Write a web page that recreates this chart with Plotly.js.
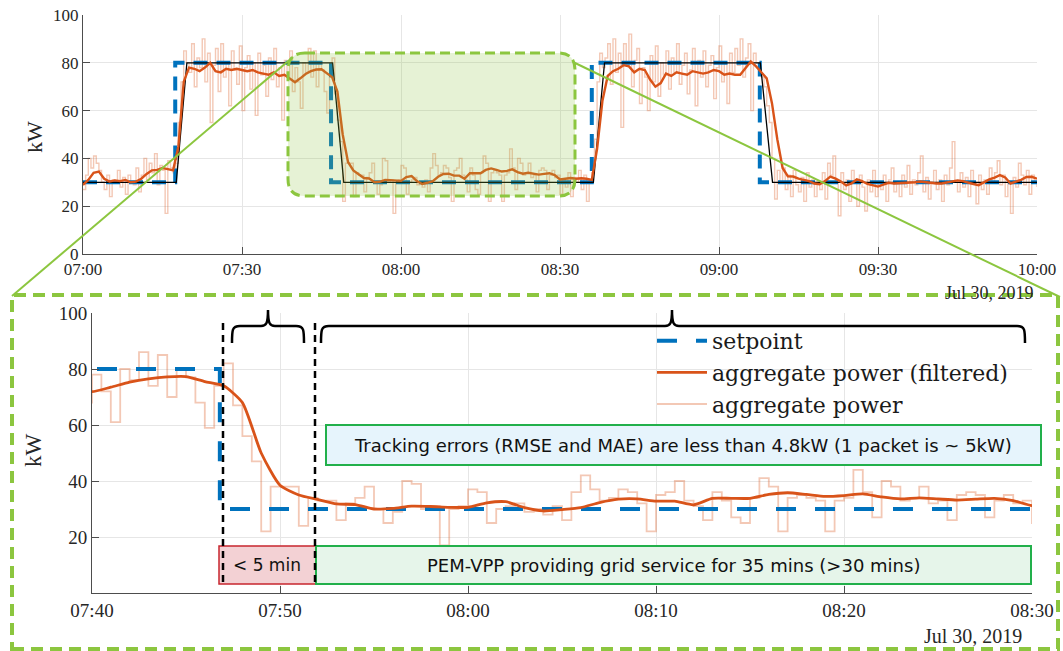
<!DOCTYPE html>
<html><head><meta charset="utf-8">
<script src="https://cdn.plot.ly/plotly-3.0.1.min.js"></script>
<style>html,body{margin:0;padding:0;background:#fff}#chart{width:1063px;height:651px}</style>
</head><body><div id="chart"></div>
<script>
// ---------------- DATA ----------------
const dayStr = '2019-07-30';
const rawStart = '07:00:00';      // raw samples every 30 s
const rawStepSeconds = 30;
const filteredStepSeconds = 60;  // filtered samples every 1 min

// aggregate power (raw), kW, 30-s samples 07:00 -> 10:00
const rawPower = [
  // 07:00 - 07:17
  27,33,40,36,41,38,35,30,27,33,24,31,30,35,28,32,25,33,30,29,36,26,33,40,31,38,34,42,29,37,35,17,39,36,34,
  // 07:17:30 - 07:19:30
  38,55,72,85,80,
  // 07:20 - 07:39:30
  76,88,70,82,78,90,72,84,55,79,86,68,88,74,80,62,85,77,71,87,60,78,83,69,80,58,84,75,79,66,82,73,86,70,78,56,81,74,85,68,
  // 07:40 - 07:47
  78,72,61,80,76,86,74,85,70,80,77,68,59,74,82,
  // 07:47:30 - 07:52
  67,56,47,22,38,38,38,24,34,33,
  // 07:52:30 - 08:30
  33,26,32,34,38,30,25,29,40,39,30,31,17,30,31,37,36,25,30,31,32,29,30,28,31,26,36,42,37,33,34,37,36,32,22,35,36,40,33,31,
  26,36,33,27,25,34,41,38,22,34,35,34,33,22,33,34,44,36,27,40,38,33,34,38,32,33,26,35,36,35,27,33,35,32,33,25,
  // 08:30:30 - 08:36
  31,28,34,24,32,30,35,27,33,22,31,34,
  // 08:36:30 - 08:38
  48,72,84,78,
  // 08:38:30 - 09:07:30
  82,88,71,90,76,84,53,88,79,92,70,81,86,63,78,74,60,83,72,87,66,80,75,85,69,82,76,88,71,79,
  84,67,77,86,62,81,74,85,70,79,83,65,78,87,72,80,63,84,76,86,79,90,74,82,88,60,84,80,76,
  // 09:08 - 09:12
  74,70,62,55,40,23,35,30,36,
  // 09:12:30 - 10:00
  27,33,24,35,29,26,32,22,34,28,31,
  24,30,27,34,23,38,33,41,30,16,34,27,31,22,35,30,20,33,28,18,
  31,26,35,24,30,27,33,22,31,36,26,30,24,33,28,37,25,31,29,34,
  41,26,32,23,30,35,27,31,22,33,29,36,47,30,26,34,28,32,24,35,
  30,21,33,27,31,25,36,30,34,39,29,33,24,30,17,32,28,38,33,29,
  35,25,33,30,28
];

// aggregate power (filtered), kW, 1-min samples 07:00 -> 10:00
const filteredPower = [
  28.9,31,34,34.5,31.5,30.3,30.8,30.5,31,30,
  30.3,31.5,33.5,35,35.2,36,35.5,35,45,72,
  78,77.5,76.5,78,80,76.5,76,77.5,77,77.5,
  77,76.5,77,76,75.5,75,76,74.5,75,73.5,
  71.9,73.5,75.3,76.5,77.2,77.3,75.5,74,68,50,
  38.5,35,33.4,31.8,31.6,30,30.2,31,30.9,30.6,
  30.6,32.2,32.6,30.5,29.3,29.8,30.5,32.3,33.5,33.6,
  32.8,32.8,31.5,33.8,33.8,33.8,35.2,35.8,35.2,34.5,
  34.8,35.4,34.3,33.6,34,33.6,33.2,33.5,33.8,33,
  31.2,
  31.5,31.8,31.5,31.7,31.5,31,44,64,74.5,76.5,
  77.5,79,78.5,76,77.5,77,73,70,71.5,75.5,
  74.5,76,75.5,75,76.5,76,75.5,76,77,76.5,
  75,75.5,75,75,78,80.5,78.5,76,73.5,63,
  48,36,
  32.5,32.4,31.5,31,30.5,29.5,29.2,30.5,32.4,31.5,
  30.3,28.7,29.5,31.2,30.5,29.3,28.8,28.2,29,29.8,
  29.5,29.6,29.5,29.8,30,30.3,30,29.8,29.5,29.5,
  30,30.2,30.8,30.5,29.8,29.3,28.8,30,31.2,32,
  33,32,29.5,30.3,31,32.2,32.3,31.5
];

// setpoint (step, held until next change)
const setpointTimes  = ['07:00:00','07:17:24','07:46:48','08:36:00','09:07:42','10:00:00'];
const setpointValues = [30, 80, 30, 80, 30, 30];

// reference trajectory (thin black line, top panel)
const referenceTimes  = ['07:00:00','07:17:36','07:19:36','07:47:06','07:49:12','08:36:18','08:38:24','09:07:48','09:10:06','10:00:00'];
const referenceValues = [30, 30, 80, 80, 30, 30, 80, 80, 30, 30];

const topTicks = ['07:00','07:30','08:00','08:30','09:00','09:30','10:00'];
const bottomTicks = ['07:40','07:50','08:00','08:10','08:20','08:30'];
const yTicksTop = [0,20,40,60,80,100];
const yTicksBottom = [20,40,60,80,100];

const seriesNames = ['setpoint','aggregate power (filtered)','aggregate power'];
const noteTracking = 'Tracking errors (RMSE and MAE) are less than 4.8kW (1 packet is ~ 5kW)';
const noteFast = '< 5 min';
const noteService = 'PEM-VPP providing grid service for 35 mins (>30 mins)';
const dateLabel = 'Jul 30, 2019';

// ---------------- helpers ----------------
const W = 1063, H = 651;
const fx = p => p / W;
const fy = p => 1 - p / H;
const stamp = hm => dayStr + ' ' + (hm.length === 5 ? hm + ':00' : hm);
function seriesTimes(startHm, stepSec, n) {
  const base = Date.parse(dayStr + 'T' + startHm + 'Z');
  const out = [];
  for (let i = 0; i < n; i++) out.push(new Date(base + i * stepSec * 1000).toISOString().replace('T', ' ').slice(0, 19));
  return out;
}
const rawTimes = seriesTimes(rawStart, rawStepSeconds, rawPower.length);
const filtTimes = seriesTimes(rawStart, filteredStepSeconds, filteredPower.length);
const spT = setpointTimes.map(stamp);
const refT = referenceTimes.map(stamp);

const BLUE = '#0072BD', ORANGE = '#D95319', RAW = 'rgba(217,83,25,0.32)';
const GREEN = '#8CC63F';
const serif = 'Liberation Serif, Times New Roman, serif';
const legendSerif = 'DejaVu Serif, serif';
const sans = 'DejaVu Sans, Verdana, sans-serif';

const traces = [
  {x: rawTimes, y: rawPower, xaxis: 'x', yaxis: 'y', mode: 'lines', line: {color: RAW, width: 1.4, shape: 'hv'}, showlegend: false, hoverinfo: 'skip'},
  {x: spT, y: setpointValues, xaxis: 'x', yaxis: 'y', mode: 'lines', line: {color: BLUE, width: 4, dash: '14px,9px', shape: 'hv'}, showlegend: false},
  {x: refT, y: referenceValues, xaxis: 'x', yaxis: 'y', mode: 'lines', line: {color: '#000', width: 1.3}, showlegend: false},
  {x: filtTimes, y: filteredPower, xaxis: 'x', yaxis: 'y', mode: 'lines', line: {color: ORANGE, width: 2.4}, showlegend: false},

  {x: rawTimes, y: rawPower, xaxis: 'x2', yaxis: 'y2', mode: 'lines', name: seriesNames[2], legendrank: 3, line: {color: RAW, width: 1.8, shape: 'hv'}},
  {x: spT, y: setpointValues, xaxis: 'x2', yaxis: 'y2', mode: 'lines', name: seriesNames[0], legendrank: 1, line: {color: BLUE, width: 4, dash: '20px,19px', shape: 'hv'}},
  {x: filtTimes, y: filteredPower, xaxis: 'x2', yaxis: 'y2', mode: 'lines', name: seriesNames[1], legendrank: 2, line: {color: ORANGE, width: 2.8, shape: 'spline', smoothing: 0.6}}
];

const axisCommon = {
  showline: true, linecolor: '#4d4d4d', linewidth: 1,
  ticks: 'inside', ticklen: 7, tickcolor: '#4d4d4d', tickwidth: 1,
  showgrid: true, gridcolor: '#e6e6e6', gridwidth: 1, zeroline: false,
  tickfont: {family: serif, size: 17, color: '#262626'}, fixedrange: true
};
const axisBottom = Object.assign({}, axisCommon, {tickfont: {family: serif, size: 19, color: '#262626'}});

const P = (x, y) => fx(x).toFixed(5) + ',' + fy(y).toFixed(5);
function roundRect(x0, y0, x1, y1, r) {
  return 'M' + P(x0 + r, y0) + ' L' + P(x1 - r, y0) + ' Q' + P(x1, y0) + ' ' + P(x1, y0 + r) +
    ' L' + P(x1, y1 - r) + ' Q' + P(x1, y1) + ' ' + P(x1 - r, y1) +
    ' L' + P(x0 + r, y1) + ' Q' + P(x0, y1) + ' ' + P(x0, y1 - r) +
    ' L' + P(x0, y0 + r) + ' Q' + P(x0, y0) + ' ' + P(x0 + r, y0) + ' Z';
}
function brace(x0, x1, xm, yBar, yEnd, yTip) {
  return 'M' + P(x0, yEnd) + ' C' + P(x0, yBar + 4) + ' ' + P(x0, yBar) + ' ' + P(x0 + 8, yBar) +
    ' L' + P(xm - 7, yBar) + ' C' + P(xm - 2, yBar) + ' ' + P(xm, yBar - 2) + ' ' + P(xm, yTip) +
    ' C' + P(xm, yBar - 2) + ' ' + P(xm + 2, yBar) + ' ' + P(xm + 7, yBar) +
    ' L' + P(x1 - 8, yBar) + ' C' + P(x1, yBar) + ' ' + P(x1, yBar + 4) + ' ' + P(x1, yEnd);
}
const rectPaper = (x0, y0, x1, y1, fill, line, w) => ({type: 'rect', xref: 'paper', yref: 'paper',
  x0: fx(x0), x1: fx(x1), y0: fy(y1), y1: fy(y0), fillcolor: fill, line: {color: line, width: w}});
const linePaper = (x0, y0, x1, y1, color, w, dash) => ({type: 'line', xref: 'paper', yref: 'paper',
  x0: fx(x0), y0: fy(y0), x1: fx(x1), y1: fy(y1), line: {color: color, width: w, dash: dash || 'solid'}});

const shapes = [
  {type: 'path', xref: 'paper', yref: 'paper', path: roundRect(288, 53, 575, 196, 17), fillcolor: 'rgba(141,198,63,0.22)', line: {color: GREEN, width: 3, dash: '10px,5px'}},
  linePaper(12, 296, 293, 57, GREEN, 2),
  linePaper(573, 62, 1060, 297, GREEN, 2),
  {type: 'rect', xref: 'paper', yref: 'paper', x0: fx(12), x1: fx(1058), y0: fy(649), y1: fy(295), line: {color: GREEN, width: 4, dash: '12px,7px'}},
  rectPaper(326, 425, 1041, 465, '#e6f4fc', '#22b04b', 2),
  rectPaper(219, 546, 316, 584, '#f3d1d4', '#c8262e', 1.5),
  rectPaper(316, 546, 1031, 584, '#e6f5ea', '#22b04b', 2),
  linePaper(223, 323, 223, 584, '#000', 2.5, '7px,5px'),
  linePaper(315, 323, 315, 584, '#000', 2.5, '7px,5px'),
  {type: 'path', xref: 'paper', yref: 'paper', path: brace(232, 304, 268, 326, 343, 310), line: {color: '#000', width: 2.5}},
  {type: 'path', xref: 'paper', yref: 'paper', path: brace(321, 1025, 672, 326, 343, 310), line: {color: '#000', width: 2.5}}
];

const ann = (x, y, text, font, extra) => Object.assign({xref: 'paper', yref: 'paper', x: fx(x), y: fy(y), text: text,
  showarrow: false, font: font, xanchor: 'center', yanchor: 'middle'}, extra || {});
const annotations = [
  ann(35, 137, 'kW', {family: serif, size: 22, color: '#262626'}, {textangle: -90}),
  ann(33, 450, 'kW', {family: serif, size: 23, color: '#262626'}, {textangle: -90}),
  ann(1036, 293, dateLabel, {family: serif, size: 18, color: '#262626'}, {xanchor: 'right'}),
  ann(1024, 636, dateLabel, {family: serif, size: 20, color: '#262626'}, {xanchor: 'right'}),
  ann(683, 445, noteTracking, {family: sans, size: 18, color: '#111'}),
  ann(267, 565, noteFast, {family: sans, size: 17, color: '#111'}),
  ann(673, 565, noteService, {family: sans, size: 18, color: '#111'})
];

const layout = {
  width: W, height: H, margin: {l: 0, r: 0, t: 0, b: 0},
  paper_bgcolor: '#fff', plot_bgcolor: '#fff',
  xaxis: Object.assign({}, axisCommon, {type: 'date', domain: [fx(83), fx(1037)], anchor: 'y',
    range: [stamp('07:00'), stamp('10:00')], tickvals: topTicks.map(stamp), ticktext: topTicks}),
  yaxis: Object.assign({}, axisCommon, {domain: [fy(254), fy(15)], anchor: 'x', range: [0, 100], tickvals: yTicksTop}),
  xaxis2: Object.assign({}, axisBottom, {type: 'date', domain: [fx(92), fx(1032)], anchor: 'y2',
    range: [stamp('07:40'), stamp('08:30')], tickvals: bottomTicks.map(stamp), ticktext: bottomTicks}),
  yaxis2: Object.assign({}, axisBottom, {domain: [fy(593), fy(313)], anchor: 'x2', range: [0, 100], tickvals: yTicksBottom}),
  showlegend: true,
  legend: {x: fx(652), y: fy(320), xanchor: 'left', yanchor: 'top', bgcolor: 'rgba(0,0,0,0)',
    font: {family: legendSerif, size: 22, color: '#1a1a1a'}, itemwidth: 50, tracegroupgap: 0, traceorder: 'normal'},
  shapes: shapes,
  annotations: annotations
};

Plotly.newPlot('chart', traces, layout, {staticPlot: true, displayModeBar: false});
</script></body></html>
